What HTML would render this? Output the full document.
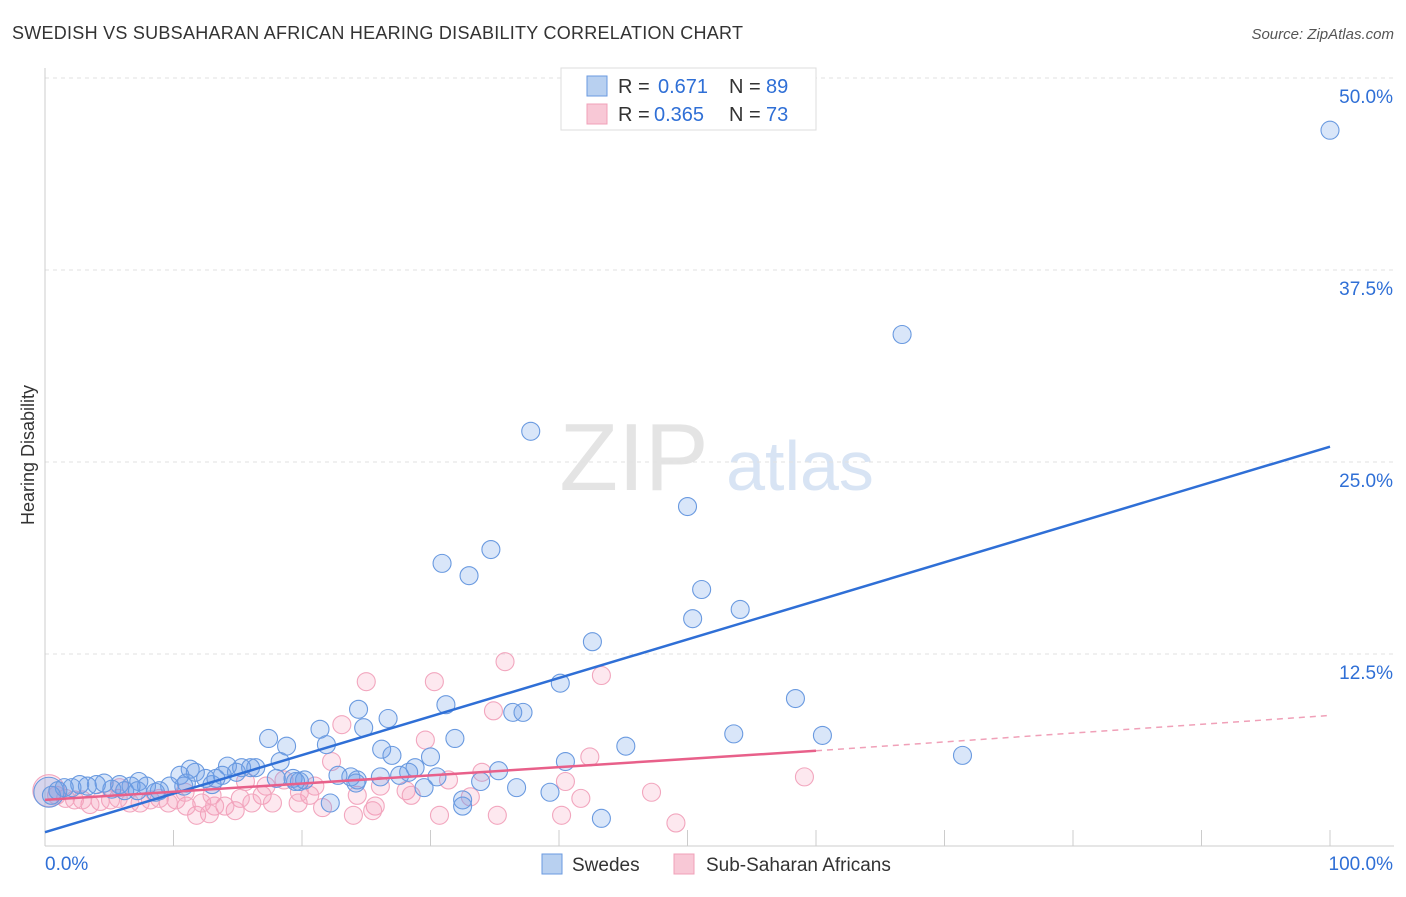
<!DOCTYPE html>
<html><head><meta charset="utf-8"><style>
body{margin:0;background:#fff;font-family:"Liberation Sans",sans-serif;}
svg text{font-family:"Liberation Sans",sans-serif;}
</style></head><body>
<svg id="chart" width="1406" height="892" xmlns="http://www.w3.org/2000/svg">
<text x="12" y="39" font-size="18" fill="#333" textLength="731" lengthAdjust="spacing">SWEDISH VS SUBSAHARAN AFRICAN HEARING DISABILITY CORRELATION CHART</text>
<text x="1394" y="39" font-size="15" fill="#555" text-anchor="end" font-style="italic">Source: ZipAtlas.com</text>
<text transform="translate(34,455) rotate(-90)" font-size="18" fill="#333" text-anchor="middle">Hearing Disability</text>
<g>
<text x="634" y="490" font-size="96" fill="#e4e4e4" text-anchor="middle" font-family="Liberation Serif">ZIP</text>
<text x="800" y="490" font-size="70" fill="#d8e4f4" text-anchor="middle">atlas</text></g>
<g id="grid"></g><g id="axes"></g><g id="pts"></g><g id="lines"></g>
<g>
<rect x="561" y="68" width="255" height="62" fill="#fff" stroke="#ddd"/>
<rect x="587" y="76" width="20" height="20" fill="#b8d0f0" stroke="#6a9ae0"/>
<text x="618" y="93" font-size="20" fill="#333">R =</text><text x="658" y="93" font-size="20" fill="#2f6fd6">0.671</text>
<text x="729" y="93" font-size="20" fill="#333">N =</text><text x="766" y="93" font-size="20" fill="#2f6fd6">89</text>
<rect x="587" y="104" width="20" height="20" fill="#f8c8d6" stroke="#f0a0b8"/>
<text x="618" y="121" font-size="20" fill="#333">R =</text><text x="654" y="121" font-size="20" fill="#2f6fd6">0.365</text>
<text x="729" y="121" font-size="20" fill="#333">N =</text><text x="766" y="121" font-size="20" fill="#2f6fd6">73</text>
</g>
<g>
<rect x="542" y="854" width="20" height="20" fill="#b8d0f0" stroke="#6a9ae0"/>
<text x="572" y="871" font-size="19" fill="#333">Swedes</text>
<rect x="674" y="854" width="20" height="20" fill="#f8c8d6" stroke="#f0a0b8"/>
<text x="706" y="871" font-size="19" fill="#333">Sub-Saharan Africans</text>
</g>
</svg>
<script>
const yTicks=[12.5,25,37.5,50];
const yTickLabels=["12.5%","25.0%","37.5%","50.0%"];
const xTickLabels=["0.0%","100.0%"];
const blueX=[0.3,100,66.7,37.8,50.0,30.9,33.0,34.7,51.1,50.4,54.1,42.6,40.1,58.4,60.5,71.4,53.6,45.2,36.4,37.2,31.2,31.9,24.4,26.7,21.4,24.8,17.4,18.8,21.9,26.2,27.0,30.0,28.8,28.3,27.6,30.5,26.1,23.8,24.3,22.8,35.3,33.9,36.7,29.5,40.5,39.3,32.5,32.5,43.3,22.2,18.3,19.8,19.3,20.2,16.4,18.0,15.3,14.2,14.9,13.8,13.0,12.5,11.7,11.3,10.5,10.8,9.7,8.9,8.6,7.9,7.3,6.7,5.8,5.2,4.6,4.0,3.3,2.7,2.1,1.5,1.0,0.5,6.2,11.0,13.3,16.0,19.5,24.2,7.2];
const blueY=[3.5,46.6,33.3,27.0,22.1,18.4,17.6,19.3,16.7,14.8,15.4,13.3,10.6,9.6,7.2,5.9,7.3,6.5,8.7,8.7,9.2,7.0,8.9,8.3,7.6,7.7,7.0,6.5,6.6,6.3,5.9,5.8,5.1,4.8,4.6,4.5,4.5,4.5,4.3,4.6,4.9,4.2,3.8,3.8,5.5,3.5,2.6,3.0,1.8,2.8,5.5,4.2,4.4,4.3,5.1,4.4,5.1,5.2,4.8,4.6,4.0,4.4,4.8,5.0,4.6,3.9,3.9,3.6,3.5,3.9,4.2,3.9,4.0,3.7,4.1,4.0,3.9,4.0,3.8,3.8,3.6,3.3,3.6,4.1,4.4,5.1,4.2,4.1,3.6];
const pinkX=[0.3,43.3,35.8,30.3,25.0,23.1,34.9,29.6,22.3,42.4,34.0,31.4,40.5,59.1,47.2,41.7,33.1,28.1,28.5,26.1,24.3,25.7,25.5,24.0,35.2,30.7,40.2,49.1,21.0,20.6,19.7,21.6,18.6,17.2,16.9,17.7,16.1,15.2,14.8,14.0,13.2,12.8,11.8,12.2,11.0,10.2,9.6,8.9,8.2,7.4,6.6,5.7,5.1,4.3,3.5,2.9,2.3,1.6,0.9,5.8,15.6,19.8,13.0,10.9];
const pinkY=[3.6,11.1,12.0,10.7,10.7,7.9,8.8,6.9,5.5,5.8,4.8,4.3,4.2,4.5,3.5,3.1,3.2,3.6,3.3,3.9,3.3,2.6,2.3,2.0,2.0,2.0,2.0,1.5,3.9,3.3,2.8,2.5,4.3,3.9,3.3,2.8,2.8,3.1,2.3,2.6,2.6,2.1,2.0,2.8,2.6,3.0,2.8,3.1,3.0,2.8,2.8,3.1,3.0,2.9,2.7,3.0,3.0,3.1,3.3,3.8,4.2,3.5,3.3,3.5];
const blueTrend=[0,0.9,100,26.0];
const pinkTrend=[0,3.0,60,6.2,100,8.5];
const X=v=>45+v*12.85, Y=v=>846-v*15.36;
const NS="http://www.w3.org/2000/svg";
function mk(p,t,a){const e=document.createElementNS(NS,t);for(const k in a)e.setAttribute(k,a[k]);document.getElementById(p).appendChild(e);return e;}
yTicks.forEach((t,i)=>{
 const l=mk('grid','line',{x1:45,x2:1394,y1:Y(t),y2:Y(t),stroke:'#e2e2e2','stroke-dasharray':'4,4'});
 
 
 const tx=mk('axes','text',{x:1393,y:Y(t)+25,'font-size':19,fill:'#2f6fd6','text-anchor':'end'});tx.textContent=yTickLabels[i];
 
 
});
let a=mk('axes','line',{x1:45,x2:45,y1:68,y2:846,stroke:'#ccc'});


a=mk('axes','line',{x1:45,x2:1394,y1:846,y2:846,stroke:'#ccc'});


for(let i=1;i<=10;i++){const t=mk('axes','line',{x1:X(i*10),x2:X(i*10),y1:830,y2:846,stroke:'#ccc'});
 
 }
let xl=mk('axes','text',{x:45,y:870,'font-size':19,fill:'#2f6fd6'});xl.textContent=xTickLabels[0];


xl=mk('axes','text',{x:1393,y:870,'font-size':19,fill:'#2f6fd6','text-anchor':'end'});xl.textContent=xTickLabels[1];


pinkX.forEach((v,i)=>{const c=mk('pts','circle',{cx:X(v),cy:Y(pinkY[i]),r:i?9:16,fill:'rgba(244,150,180,0.22)',stroke:'#f2a6be','stroke-width':1.1});
 
 });
blueX.forEach((v,i)=>{const c=mk('pts','circle',{cx:X(v),cy:Y(blueY[i]),r:i?9:15,fill:'rgba(110,160,230,0.26)',stroke:'#6a9ae0','stroke-width':1.1});
 
 });
let ln=mk('lines','line',{x1:X(blueTrend[0]),y1:Y(blueTrend[1]),x2:X(blueTrend[2]),y2:Y(blueTrend[3]),stroke:'#2f6fd6','stroke-width':2.5});


ln=mk('lines','line',{x1:X(pinkTrend[0]),y1:Y(pinkTrend[1]),x2:X(pinkTrend[2]),y2:Y(pinkTrend[3]),stroke:'#e8608a','stroke-width':2.5});


ln=mk('lines','line',{x1:X(pinkTrend[2]),y1:Y(pinkTrend[3]),x2:X(pinkTrend[4]),y2:Y(pinkTrend[5]),stroke:'#f0a0b8','stroke-width':1.5,'stroke-dasharray':'6,5'});


</script>
</body></html>
